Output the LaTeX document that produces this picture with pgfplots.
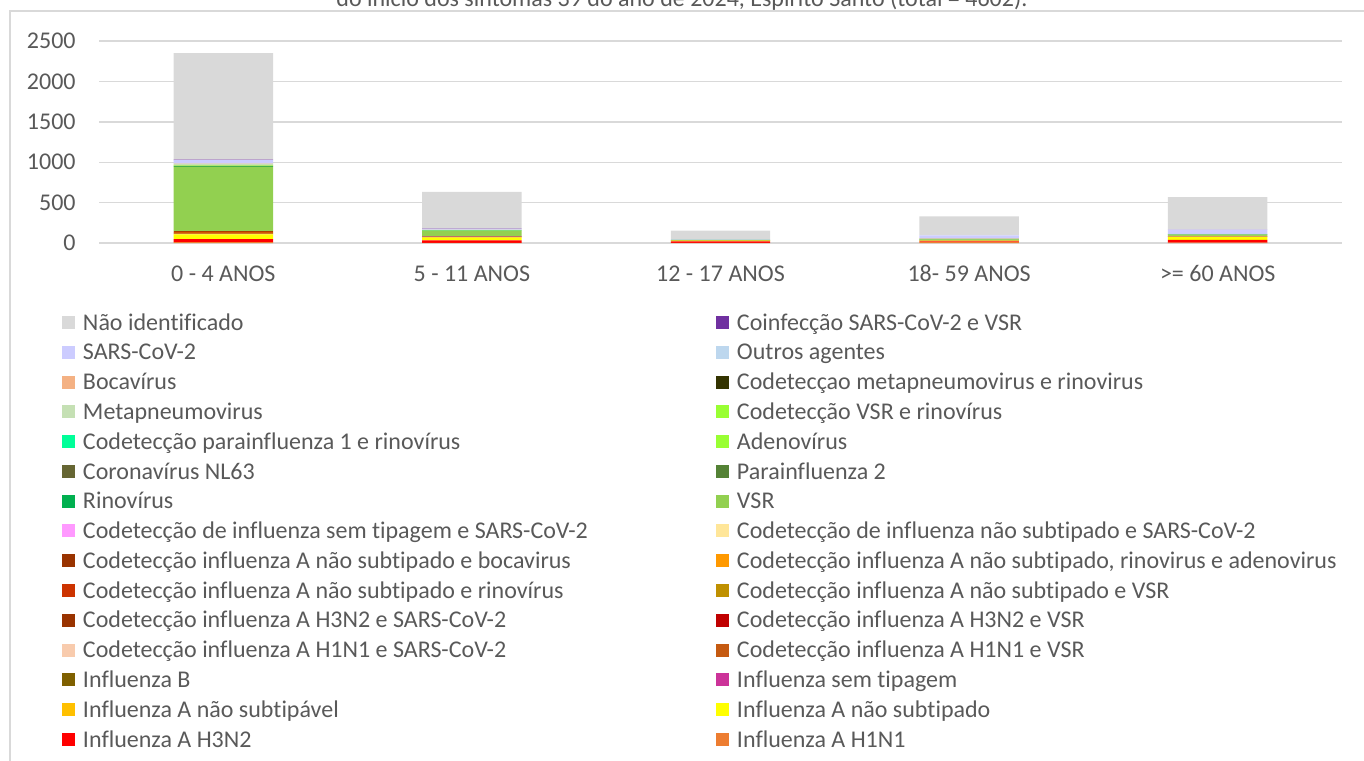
\documentclass[border=0pt]{standalone}
\usepackage{pgfplots}
\pgfplotsset{compat=1.18}
\usepackage{fontspec}
\setmainfont{Carlito}[Ligatures=NoCommon]
\definecolor{txt}{HTML}{595959}
\definecolor{grd}{HTML}{D9D9D9}
\definecolor{c01}{HTML}{ED7D31}
\definecolor{c02}{HTML}{FF0000}
\definecolor{c03}{HTML}{FFFF00}
\definecolor{c04}{HTML}{FFC000}
\definecolor{c05}{HTML}{CC3399}
\definecolor{c06}{HTML}{7F6000}
\definecolor{c07}{HTML}{C55A11}
\definecolor{c08}{HTML}{F8CBAD}
\definecolor{c09}{HTML}{C00000}
\definecolor{c10}{HTML}{993300}
\definecolor{c11}{HTML}{BF9000}
\definecolor{c12}{HTML}{CC3300}
\definecolor{c13}{HTML}{FF9900}
\definecolor{c14}{HTML}{993300}
\definecolor{c15}{HTML}{FFE699}
\definecolor{c16}{HTML}{FF99FF}
\definecolor{c17}{HTML}{92D050}
\definecolor{c18}{HTML}{00B050}
\definecolor{c19}{HTML}{548235}
\definecolor{c20}{HTML}{666633}
\definecolor{c21}{HTML}{99FF33}
\definecolor{c22}{HTML}{00FF99}
\definecolor{c23}{HTML}{99FF33}
\definecolor{c24}{HTML}{C5E0B4}
\definecolor{c25}{HTML}{333300}
\definecolor{c26}{HTML}{F4B183}
\definecolor{c27}{HTML}{BDD7EE}
\definecolor{c28}{HTML}{CCCCFF}
\definecolor{c29}{HTML}{7030A0}
\definecolor{c30}{HTML}{D9D9D9}
\newcommand\fs{\fontsize{12}{14.4}\selectfont}
\newcommand\LE[1]{\makebox[312.5pt][l]{#1}}
\begin{document}
\begin{tikzpicture}
\useasboundingbox (0pt,0pt) rectangle (682pt,-380pt);
\clip (0pt,0pt) rectangle (682pt,-380pt);
\draw[grd, line width=0.6pt] (5pt,-5.5pt) rectangle (700pt,-400pt);
\node[anchor=base, font=\fs, text=txt, inner sep=0pt] at (341pt,-3.25pt) {do início dos sintomas 39 do ano de 2024, Espírito Santo (total = 4602).};
\begin{axis}[
  at={(49.5pt,-121.5pt)}, anchor=south west,
  scale only axis, width=621.5pt, height=101pt,
  ybar stacked, bar width=0.4,
  xmin=-0.5, xmax=4.5, ymin=0, ymax=2500,
  xtick={0,1,2,3,4},
  xticklabels={0 - 4 ANOS, 5 - 11 ANOS, 12 - 17 ANOS, 18- 59 ANOS, >= 60 ANOS},
  ytick={0,500,1000,1500,2000,2500},
  /pgf/number format/assume math mode=true,
  /pgf/number format/1000 sep={},
  axis line style={draw=none},
  major tick length=0pt,
  tick style={draw=none},
  ymajorgrids, grid style={draw=grd, line width=0.7pt},
  xticklabel style={font=\fs, text=txt, anchor=base, inner sep=0pt, yshift=-19.25pt},
  yticklabel style={font=\fs, text=txt, anchor=east, inner sep=0pt, xshift=-11.5pt},
  legend image code/.code={\fill[#1] (0pt,-3.25pt) rectangle (6.5pt,3.25pt);},
  legend columns=2,
  legend cell align=left,
  legend style={at={(axis description cs:-0.029767,-0.334158)}, anchor=north west,
    draw=none, fill=none, inner sep=0pt, outer sep=0pt,
    font=\fs, text=txt,
    column sep=4pt, row sep=2.89pt,
    nodes={inner sep=0pt, text height=9.8pt, text depth=2.2pt}},
]
% legend (row-wise, as in the reference)
\addlegendimage{fill=c30, draw=none}\addlegendentry{\LE{Não identificado}}
\addlegendimage{fill=c29, draw=none}\addlegendentry{\LE{Coinfecção SARS-CoV-2 e VSR}}
\addlegendimage{fill=c28, draw=none}\addlegendentry{\LE{SARS-CoV-2}}
\addlegendimage{fill=c27, draw=none}\addlegendentry{\LE{Outros agentes}}
\addlegendimage{fill=c26, draw=none}\addlegendentry{\LE{Bocavírus}}
\addlegendimage{fill=c25, draw=none}\addlegendentry{\LE{Codetecçao metapneumovirus e rinovirus}}
\addlegendimage{fill=c24, draw=none}\addlegendentry{\LE{Metapneumovirus}}
\addlegendimage{fill=c23, draw=none}\addlegendentry{\LE{Codetecção VSR e rinovírus}}
\addlegendimage{fill=c22, draw=none}\addlegendentry{\LE{Codetecção parainfluenza 1 e rinovírus}}
\addlegendimage{fill=c21, draw=none}\addlegendentry{\LE{Adenovírus}}
\addlegendimage{fill=c20, draw=none}\addlegendentry{\LE{Coronavírus NL63}}
\addlegendimage{fill=c19, draw=none}\addlegendentry{\LE{Parainfluenza 2}}
\addlegendimage{fill=c18, draw=none}\addlegendentry{\LE{Rinovírus}}
\addlegendimage{fill=c17, draw=none}\addlegendentry{\LE{VSR}}
\addlegendimage{fill=c16, draw=none}\addlegendentry{\LE{Codetecção de influenza sem tipagem e SARS-CoV-2}}
\addlegendimage{fill=c15, draw=none}\addlegendentry{\LE{Codetecção de influenza não subtipado e SARS-CoV-2}}
\addlegendimage{fill=c14, draw=none}\addlegendentry{\LE{Codetecção influenza A não subtipado e bocavirus}}
\addlegendimage{fill=c13, draw=none}\addlegendentry{\LE{Codetecção influenza A não subtipado, rinovirus e adenovirus}}
\addlegendimage{fill=c12, draw=none}\addlegendentry{\LE{Codetecção influenza A não subtipado e rinovírus}}
\addlegendimage{fill=c11, draw=none}\addlegendentry{\LE{Codetecção influenza A não subtipado e VSR}}
\addlegendimage{fill=c10, draw=none}\addlegendentry{\LE{Codetecção influenza A H3N2 e SARS-CoV-2}}
\addlegendimage{fill=c09, draw=none}\addlegendentry{\LE{Codetecção influenza A H3N2 e VSR}}
\addlegendimage{fill=c08, draw=none}\addlegendentry{\LE{Codetecção influenza A H1N1 e SARS-CoV-2}}
\addlegendimage{fill=c07, draw=none}\addlegendentry{\LE{Codetecção influenza A H1N1 e VSR}}
\addlegendimage{fill=c06, draw=none}\addlegendentry{\LE{Influenza B}}
\addlegendimage{fill=c05, draw=none}\addlegendentry{\LE{Influenza sem tipagem}}
\addlegendimage{fill=c04, draw=none}\addlegendentry{\LE{Influenza A não subtipável}}
\addlegendimage{fill=c03, draw=none}\addlegendentry{\LE{Influenza A não subtipado}}
\addlegendimage{fill=c02, draw=none}\addlegendentry{\LE{Influenza A H3N2}}
\addlegendimage{fill=c01, draw=none}\addlegendentry{\LE{Influenza A H1N1}}
% stacked data, bottom to top
\addplot[fill=c01, draw=none, forget plot] coordinates {(0,10) (1,2) (2,2) (3,12) (4,6)};
\addplot[fill=c02, draw=none, forget plot] coordinates {(0,38) (1,32) (2,18) (3,8) (4,32)};
\addplot[fill=c03, draw=none, forget plot] coordinates {(0,60) (1,33) (2,8) (3,6) (4,36)};
\addplot[fill=c04, draw=none, forget plot] coordinates {(0,8) (1,6) (2,1) (3,2) (4,5)};
\addplot[fill=c05, draw=none, forget plot] coordinates {(0,3) (1,6) (2,0) (3,1) (4,3)};
\addplot[fill=c06, draw=none, forget plot] coordinates {(0,4) (1,3) (2,4) (3,1) (4,3)};
\addplot[fill=c07, draw=none, forget plot] coordinates {(0,3) (1,0) (2,0) (3,0) (4,0)};
\addplot[fill=c08, draw=none, forget plot] coordinates {(0,1) (1,0) (2,0) (3,0) (4,0)};
\addplot[fill=c09, draw=none, forget plot] coordinates {(0,4) (1,1) (2,0) (3,0) (4,0)};
\addplot[fill=c10, draw=none, forget plot] coordinates {(0,1) (1,0) (2,0) (3,0) (4,1)};
\addplot[fill=c11, draw=none, forget plot] coordinates {(0,5) (1,2) (2,1) (3,0) (4,0)};
\addplot[fill=c12, draw=none, forget plot] coordinates {(0,3) (1,1) (2,0) (3,0) (4,0)};
\addplot[fill=c13, draw=none, forget plot] coordinates {(0,2) (1,0) (2,0) (3,0) (4,0)};
\addplot[fill=c14, draw=none, forget plot] coordinates {(0,1) (1,0) (2,0) (3,0) (4,0)};
\addplot[fill=c15, draw=none, forget plot] coordinates {(0,1) (1,0) (2,0) (3,0) (4,1)};
\addplot[fill=c16, draw=none, forget plot] coordinates {(0,1) (1,0) (2,0) (3,0) (4,0)};
\addplot[fill=c17, draw=none, forget plot] coordinates {(0,800) (1,64) (2,3) (3,16) (4,18)};
\addplot[fill=c18, draw=none, forget plot] coordinates {(0,6) (1,3) (2,1) (3,3) (4,1)};
\addplot[fill=c19, draw=none, forget plot] coordinates {(0,2) (1,0) (2,0) (3,0) (4,0)};
\addplot[fill=c20, draw=none, forget plot] coordinates {(0,1) (1,0) (2,0) (3,1) (4,1)};
\addplot[fill=c21, draw=none, forget plot] coordinates {(0,3) (1,1) (2,0) (3,0) (4,0)};
\addplot[fill=c22, draw=none, forget plot] coordinates {(0,1) (1,0) (2,0) (3,0) (4,0)};
\addplot[fill=c23, draw=none, forget plot] coordinates {(0,4) (1,1) (2,0) (3,0) (4,0)};
\addplot[fill=c24, draw=none, forget plot] coordinates {(0,14) (1,6) (2,1) (3,4) (4,3)};
\addplot[fill=c25, draw=none, forget plot] coordinates {(0,1) (1,0) (2,0) (3,0) (4,0)};
\addplot[fill=c26, draw=none, forget plot] coordinates {(0,4) (1,1) (2,0) (3,2) (4,0)};
\addplot[fill=c27, draw=none, forget plot] coordinates {(0,8) (1,3) (2,1) (3,5) (4,4)};
\addplot[fill=c28, draw=none, forget plot] coordinates {(0,36) (1,10) (2,2) (3,32) (4,52)};
\addplot[fill=c29, draw=none, forget plot] coordinates {(0,6) (1,4) (2,0) (3,0) (4,1)};
\addplot[fill=c30, draw=none, forget plot] coordinates {(0,1318) (1,455) (2,112) (3,236) (4,402)};
\end{axis}
\end{tikzpicture}
\end{document}
